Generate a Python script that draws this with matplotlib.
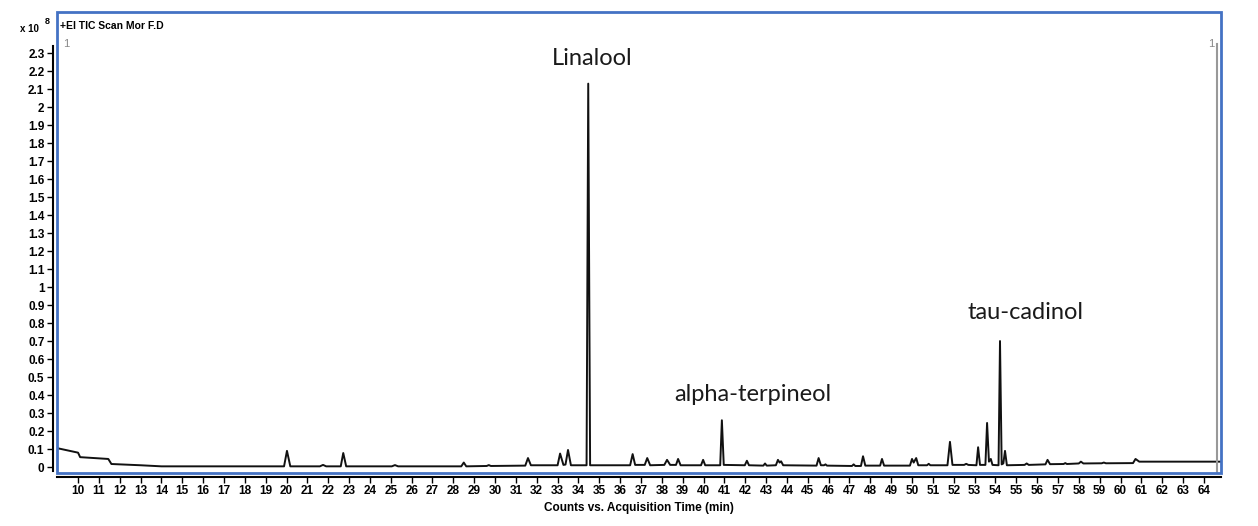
import matplotlib
matplotlib.use("Agg")
import matplotlib.pyplot as plt
from matplotlib.patches import Rectangle

# ---- data (counts x10^8 vs acquisition time) ----
rt = [9.0, 10.0, 10.1, 11.45, 11.6, 13.0, 14.0,
      19.88, 20.02, 20.18, 21.6, 21.75, 21.9, 22.6, 22.72, 22.86,
      25.05, 25.2, 25.35, 28.38, 28.5, 28.62, 29.6, 29.7, 29.8,
      31.45, 31.58, 31.72, 33.0, 33.12, 33.28, 33.38, 33.5, 33.64,
      34.39, 34.47, 34.56, 36.48, 36.6, 36.72, 37.18, 37.3, 37.44,
      38.12, 38.25, 38.4, 38.68, 38.78, 38.9, 39.88, 39.98, 40.08,
      40.8, 40.88, 40.97, 41.98, 42.08, 42.18, 42.87, 42.95, 43.03,
      43.47, 43.57, 43.65, 43.72, 43.82, 45.42, 45.52, 45.63,
      45.78, 45.85, 45.92, 47.12, 47.2, 47.28, 47.55, 47.65, 47.76,
      48.47, 48.56, 48.66, 49.9, 50.0, 50.08, 50.2, 50.3,
      50.72, 50.8, 50.88, 51.7, 51.82, 51.94, 52.5, 52.6, 52.7,
      53.09, 53.17, 53.26, 53.52, 53.6, 53.69, 53.78, 53.86,
      54.15, 54.22, 54.3, 54.38, 54.46, 54.55, 55.4, 55.5, 55.6,
      56.4, 56.5, 56.62, 57.27, 57.35, 57.43, 58.0, 58.1, 58.22,
      59.1, 59.2, 59.3, 60.6, 60.72, 60.9, 64.8]
counts = [0.105, 0.08, 0.055, 0.045, 0.017, 0.01, 0.004,
          0.004, 0.09, 0.004, 0.004, 0.012, 0.004, 0.004, 0.078, 0.004,
          0.004, 0.011, 0.004, 0.004, 0.025, 0.004, 0.006, 0.011, 0.006,
          0.008, 0.05, 0.01, 0.01, 0.075, 0.012, 0.014, 0.095, 0.01,
          0.01, 2.13, 0.01, 0.01, 0.072, 0.012, 0.012, 0.05, 0.01,
          0.012, 0.04, 0.012, 0.012, 0.045, 0.01, 0.01, 0.04, 0.01,
          0.01, 0.26, 0.012, 0.01, 0.035, 0.01, 0.008, 0.02, 0.008,
          0.01, 0.04, 0.025, 0.032, 0.01, 0.008, 0.05, 0.01,
          0.01, 0.015, 0.008, 0.006, 0.015, 0.006, 0.006, 0.06, 0.008,
          0.008, 0.045, 0.008, 0.008, 0.045, 0.025, 0.05, 0.01,
          0.01, 0.018, 0.01, 0.01, 0.14, 0.012, 0.012, 0.018, 0.012,
          0.01, 0.11, 0.012, 0.012, 0.245, 0.03, 0.045, 0.012,
          0.01, 0.70, 0.015, 0.02, 0.09, 0.01, 0.012, 0.02, 0.012,
          0.015, 0.04, 0.016, 0.017, 0.022, 0.017, 0.02, 0.03, 0.02,
          0.021, 0.025, 0.021, 0.022, 0.045, 0.03, 0.03]

peak_names = ["Linalool", "alpha-terpineol", "tau-cadinol"]
peak_rt = [34.65, 42.37, 55.42]
peak_label_y = [2.27, 0.405, 0.86]

x_ticks = list(range(10, 65))
y_ticks = [i / 10 for i in range(0, 24)]

tick_font = ["Liberation Sans", "DejaVu Sans"]
label_font = ["Lato", "DejaVu Sans"]
frame_blue = "#4472C4"

fig = plt.figure(figsize=(12.58, 5.26), dpi=100)
ax = fig.add_axes([57 / 1258, 1 - 473 / 526, (1221 - 57) / 1258, (473 - 12) / 526])

ax.plot(rt, counts, color="#111111", lw=1.4, solid_joinstyle="round")

ax.set_xlim(8.99, 64.82)
ax.set_ylim(-0.033, 2.528)

# black axes sit just outside the blue frame
for side in ["top", "right"]:
    ax.spines[side].set_visible(False)
ax.spines["left"].set_position(("outward", 3))
ax.spines["bottom"].set_position(("outward", 3))
ax.spines["left"].set_bounds(-0.02, 2.34)
ax.spines["left"].set_linewidth(1.5)
ax.spines["bottom"].set_linewidth(1.5)

ax.set_xticks(x_ticks)
ax.set_xticklabels([str(t) for t in x_ticks], family=tick_font, fontsize=8.5,
                   fontweight="bold")
ax.set_yticks(y_ticks)
ax.set_yticklabels(["%g" % v for v in y_ticks], family=tick_font, fontsize=8.5,
                   fontweight="bold")
ax.tick_params(axis="both", direction="out", length=4, width=1, pad=2)

ax.set_xlabel("Counts vs. Acquisition Time (min)", family=tick_font, fontsize=8.5,
              fontweight="bold", labelpad=3)

# blue frame of the plot area
ax.add_patch(Rectangle((0, 0), 1, 1, transform=ax.transAxes, fill=False,
                       edgecolor=frame_blue, lw=2, clip_on=False, zorder=5))

# gray cursor marker at the right end
ax.plot([0.9965, 0.9965], [0, 0.93], transform=ax.transAxes, color="#999999", lw=1.5)
ax.text(0.005, 0.93, "1", transform=ax.transAxes, ha="left", va="center",
        color="#888888", fontsize=8, family=tick_font)
ax.text(0.994, 0.93, "1", transform=ax.transAxes, ha="right", va="center",
        color="#888888", fontsize=8, family=tick_font)

# header texts
fig.text(60 / 1258, 1 - 26 / 526, "+EI TIC Scan Mor F.D", ha="left", va="center",
         fontsize=7.5, family=tick_font, fontweight="bold")
fig.text(20 / 1258, 1 - 29 / 526, "x 10", ha="left", va="center",
         fontsize=7, family=tick_font, fontweight="bold")
fig.text(45 / 1258, 1 - 21 / 526, "8", ha="left", va="center",
         fontsize=6.5, family=tick_font, fontweight="bold")

for name, x, y in zip(peak_names, peak_rt, peak_label_y):
    ax.text(x, y, name, ha="center", va="center", fontsize=17, family=label_font,
            color="#1a1a1a")

fig.savefig("out.png", dpi=100, facecolor="white")
